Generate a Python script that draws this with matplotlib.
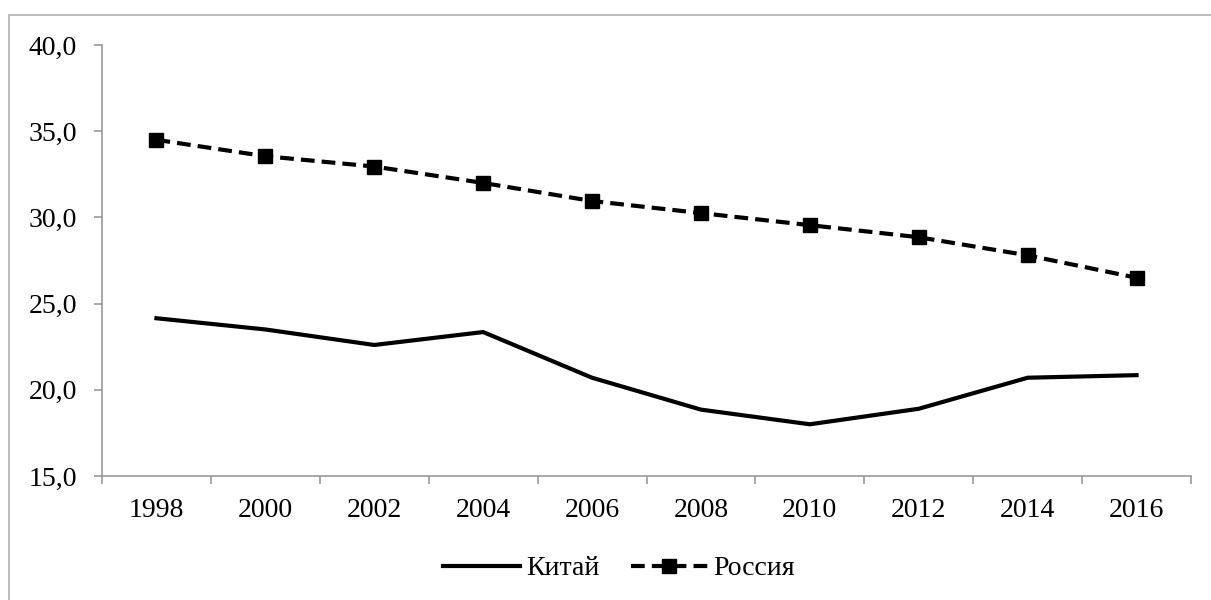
import matplotlib.pyplot as plt
from matplotlib.patches import Rectangle
from matplotlib.ticker import FixedLocator, FuncFormatter

years = ["1998", "2000", "2002", "2004", "2006", "2008", "2010", "2012", "2014", "2016"]
china = [24.15, 23.5, 22.6, 23.35, 20.7, 18.85, 18.0, 18.9, 20.7, 20.85]
russia = [34.5, 33.55, 32.95, 32.0, 30.95, 30.25, 29.55, 28.85, 27.8, 26.5]

plt.rcParams['font.family'] = ['Liberation Serif', 'DejaVu Serif']

fig = plt.figure(figsize=(12.11, 6.0), dpi=100)
fig.patches.append(Rectangle((9 / 1211, -0.05), 1.2, 1 - 15 / 600 + 0.05,
                             transform=fig.transFigure, fill=False,
                             edgecolor='#b0b0b0', linewidth=1.2))

# plot area in pixels: x 102..1191, y 45..476
ax = fig.add_axes([102 / 1211, 1 - 476 / 600, (1191 - 102) / 1211, (476 - 45) / 600])
x = list(range(len(years)))

ax.plot(x, china, color='black', linewidth=3.0, label='Китай')
ax.plot(x, russia, color='black', linewidth=3.0, linestyle=(0, (3.3, 1.7)),
        marker='s', markersize=10, label='Россия')

ax.set_xlim(-0.5, len(years) - 0.5)
ax.set_ylim(15, 40)
ax.set_yticks([15, 20, 25, 30, 35, 40])
ax.yaxis.set_major_formatter(FuncFormatter(lambda v, p: f"{v:.1f}".replace('.', ',')))

ax.xaxis.set_major_locator(FixedLocator([i - 0.5 for i in range(len(years) + 1)]))
ax.xaxis.set_minor_locator(FixedLocator(x))
ax.set_xticklabels([])
ax.set_xticklabels(years, minor=True)
ax.tick_params(axis='x', which='major', length=5.5, color='#999999', width=1.2)
ax.tick_params(axis='x', which='minor', length=0, pad=16, labelsize=20)
ax.tick_params(axis='y', length=6, color='#999999', width=1.2, pad=12, labelsize=20)

for s in ['top', 'right']:
    ax.spines[s].set_visible(False)
for s in ['left', 'bottom']:
    ax.spines[s].set_color('#999999')
    ax.spines[s].set_linewidth(1.2)

ax.legend(loc='center', bbox_to_anchor=(0.475, -0.215), ncol=2, frameon=False,
          fontsize=20, handlelength=2.75, columnspacing=1.15, handletextpad=0.22)

fig.savefig("out.png", dpi=100)
